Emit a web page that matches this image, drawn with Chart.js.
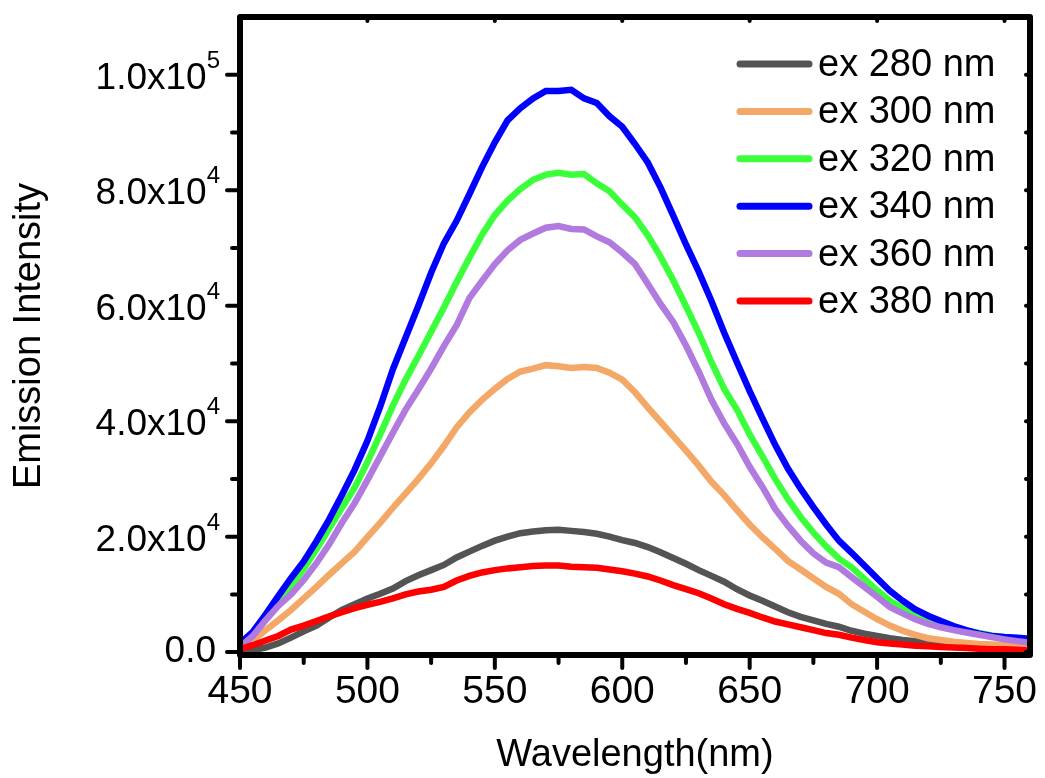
<!DOCTYPE html>
<html lang="en">
<head>
<meta charset="UTF-8">
<title>Emission Intensity vs Wavelength</title>
<script src="https://cdn.jsdelivr.net/npm/chart.js"></script>
<style>
    * { margin: 0; padding: 0; box-sizing: border-box; }
    body { background: #fff; width: 1045px; height: 778px; overflow: hidden; }
    canvas { display: block; }
</style>
</head>
<body>
<canvas id="emission-chart" width="1045" height="778"></canvas>
<script>
// wavelength (nm)
var wavelengths = [450, 455, 460, 465, 470, 475, 480, 485, 490, 495, 500, 505, 510, 515, 520, 525,
    530, 535, 540, 545, 550, 555, 560, 565, 570, 575, 580, 585, 590, 595, 600, 605, 610, 615, 620,
    625, 630, 635, 640, 645, 650, 655, 660, 665, 670, 675, 680, 685, 690, 695, 700, 705, 710, 715,
    720, 725, 730, 735, 740, 745, 750, 755, 760];

// intensities in units of 10^4
var ex280 = [0.00, 0.03, 0.08, 0.15, 0.25, 0.36, 0.46, 0.60, 0.73, 0.83, 0.93, 1.01, 1.10, 1.23, 1.33, 1.42,
    1.51, 1.64, 1.74, 1.84, 1.93, 2.00, 2.06, 2.09, 2.11, 2.12, 2.10, 2.08, 2.05, 2.00, 1.94, 1.89, 1.82,
    1.73, 1.63, 1.53, 1.42, 1.32, 1.22, 1.09, 0.98, 0.89, 0.79, 0.69, 0.61, 0.55, 0.49, 0.44, 0.37, 0.32,
    0.28, 0.24, 0.21, 0.19, 0.17, 0.15, 0.14, 0.13, 0.12, 0.11, 0.09, 0.09, 0.08];
var ex300 = [0.05, 0.20, 0.38, 0.55, 0.73, 0.93, 1.13, 1.34, 1.54, 1.74, 1.99, 2.24, 2.50, 2.75, 3.00, 3.27,
    3.57, 3.89, 4.15, 4.37, 4.56, 4.73, 4.86, 4.91, 4.97, 4.95, 4.92, 4.94, 4.92, 4.84, 4.72, 4.50, 4.24,
    3.99, 3.74, 3.49, 3.23, 2.95, 2.72, 2.46, 2.21, 1.99, 1.79, 1.58, 1.43, 1.28, 1.13, 1.01, 0.83, 0.70,
    0.57, 0.46, 0.37, 0.30, 0.24, 0.21, 0.18, 0.16, 0.14, 0.13, 0.12, 0.10, 0.09];
var ex320 = [0.10, 0.32, 0.62, 0.88, 1.14, 1.44, 1.78, 2.14, 2.50, 2.85, 3.29, 3.77, 4.27, 4.72, 5.13, 5.55,
    5.97, 6.41, 6.83, 7.23, 7.57, 7.82, 8.02, 8.18, 8.27, 8.30, 8.27, 8.28, 8.12, 7.98, 7.75, 7.53, 7.22,
    6.85, 6.44, 5.99, 5.53, 5.02, 4.56, 4.20, 3.77, 3.39, 3.00, 2.65, 2.34, 2.07, 1.83, 1.62, 1.47, 1.27,
    1.07, 0.89, 0.76, 0.64, 0.55, 0.49, 0.42, 0.37, 0.33, 0.29, 0.26, 0.23, 0.21];
var ex340 = [0.15, 0.35, 0.65, 0.97, 1.28, 1.57, 1.92, 2.30, 2.72, 3.16, 3.66, 4.25, 4.90, 5.45, 6.00, 6.57,
    7.08, 7.47, 7.93, 8.40, 8.83, 9.21, 9.42, 9.59, 9.72, 9.72, 9.74, 9.59, 9.51, 9.28, 9.10, 8.80, 8.48,
    8.05, 7.56, 7.06, 6.59, 6.08, 5.53, 5.02, 4.52, 4.05, 3.59, 3.18, 2.83, 2.51, 2.21, 1.93, 1.72, 1.50,
    1.28, 1.06, 0.89, 0.74, 0.63, 0.54, 0.45, 0.38, 0.32, 0.28, 0.26, 0.25, 0.23];
var ex360 = [0.08, 0.28, 0.55, 0.80, 1.00, 1.25, 1.54, 1.87, 2.24, 2.58, 2.98, 3.39, 3.80, 4.20, 4.55, 4.91,
    5.30, 5.66, 6.13, 6.43, 6.72, 6.96, 7.14, 7.25, 7.35, 7.38, 7.33, 7.32, 7.20, 7.10, 6.92, 6.72, 6.38,
    6.03, 5.72, 5.31, 4.86, 4.37, 3.96, 3.61, 3.21, 2.86, 2.48, 2.19, 1.93, 1.71, 1.55, 1.47, 1.30, 1.13,
    0.96, 0.78, 0.67, 0.57, 0.49, 0.43, 0.38, 0.34, 0.30, 0.26, 0.22, 0.19, 0.16];
var ex380 = [0.05, 0.12, 0.20, 0.28, 0.39, 0.46, 0.54, 0.62, 0.69, 0.76, 0.82, 0.87, 0.93, 1.00, 1.05, 1.08,
    1.13, 1.24, 1.32, 1.38, 1.42, 1.45, 1.47, 1.49, 1.50, 1.50, 1.48, 1.47, 1.46, 1.43, 1.40, 1.36, 1.31,
    1.24, 1.16, 1.09, 1.02, 0.93, 0.83, 0.75, 0.68, 0.60, 0.53, 0.48, 0.43, 0.38, 0.33, 0.30, 0.25, 0.21,
    0.17, 0.15, 0.13, 0.11, 0.10, 0.09, 0.08, 0.07, 0.06, 0.05, 0.05, 0.04, 0.03];

var seriesLabels = ['ex 280 nm', 'ex 300 nm', 'ex 320 nm', 'ex 340 nm', 'ex 360 nm', 'ex 380 nm'];
var seriesColors = ['#545454', '#f4a868', '#3cff3c', '#0000ff', '#b07ade', '#ff0000'];
var seriesValues = [ex280, ex300, ex320, ex340, ex360, ex380];

var xTickValues = [450, 500, 550, 600, 650, 700, 750];
var xMinorValues = [475, 525, 575, 625, 675, 725];
var yTickValues = [0, 2, 4, 6, 8, 10];
var yMinorValues = [1, 3, 5, 7, 9];
var yTickBase = ['0.0', '2.0x10', '4.0x10', '6.0x10', '8.0x10', '1.0x10'];
var yTickExp = ['', '4', '4', '4', '4', '5'];

var FONT = '"Liberation Sans", Arial, sans-serif';
Chart.defaults.font.family = FONT;
Chart.defaults.color = '#000';

var datasets = seriesValues.map(function (vals, i) {
    return {
        label: seriesLabels[i],
        data: vals.map(function (v, j) { return { x: wavelengths[j], y: v }; }),
        borderColor: seriesColors[i],
        backgroundColor: seriesColors[i],
        borderWidth: 6.5,
        pointRadius: 0,
        tension: 0,
        fill: false,
        order: seriesValues.length - i
    };
});

// frame, tick marks, superscript y labels and the legend
var framePlugin = {
    id: 'frame',
    afterDraw: function (chart) {
        var ctx = chart.ctx;
        var a = chart.chartArea;
        var xs = chart.scales.x;
        var ys = chart.scales.y;
        ctx.save();
        ctx.strokeStyle = '#000';
        ctx.lineCap = 'round';

        ctx.lineWidth = 4;
        xTickValues.forEach(function (v) {
            var px = xs.getPixelForValue(v);
            ctx.beginPath(); ctx.moveTo(px, a.bottom); ctx.lineTo(px, a.bottom + 13); ctx.stroke();
            ctx.beginPath(); ctx.moveTo(px, a.top); ctx.lineTo(px, a.top + 4); ctx.stroke();
        });
        xMinorValues.forEach(function (v) {
            var px = xs.getPixelForValue(v);
            ctx.beginPath(); ctx.moveTo(px, a.bottom); ctx.lineTo(px, a.bottom + 8); ctx.stroke();
        });
        yTickValues.forEach(function (v) {
            var py = ys.getPixelForValue(v);
            ctx.beginPath(); ctx.moveTo(a.left, py); ctx.lineTo(a.left - 13, py); ctx.stroke();
            ctx.beginPath(); ctx.moveTo(a.right, py); ctx.lineTo(a.right - 4, py); ctx.stroke();
        });
        yMinorValues.forEach(function (v) {
            var py = ys.getPixelForValue(v);
            ctx.beginPath(); ctx.moveTo(a.left, py); ctx.lineTo(a.left - 8, py); ctx.stroke();
            ctx.beginPath(); ctx.moveTo(a.right, py); ctx.lineTo(a.right - 4, py); ctx.stroke();
        });

        ctx.lineWidth = 6;
        ctx.lineJoin = 'round';
        ctx.strokeRect(a.left, a.top, a.right - a.left, a.bottom - a.top);

        // y tick labels with superscript exponent
        ctx.fillStyle = '#000';
        ctx.textBaseline = 'alphabetic';
        ctx.textAlign = 'right';
        yTickValues.forEach(function (v, i) {
            var py = ys.getPixelForValue(v);
            var right = a.left - 20;
            var base = py + 14;
            if (yTickExp[i]) {
                ctx.font = '24px ' + FONT;
                var w = ctx.measureText(yTickExp[i]).width;
                ctx.fillText(yTickExp[i], right, base - 21);
                right -= w;
            } else {
                right = a.left - 24;
                base = py + 10;
            }
            ctx.font = '37px ' + FONT;
            ctx.fillText(yTickBase[i], right, base);
        });

        // legend
        ctx.textAlign = 'left';
        ctx.font = '38px ' + FONT;
        chart.data.datasets.forEach(function (ds, i) {
            var ly = 64 + i * 47.4;
            ctx.strokeStyle = ds.borderColor;
            ctx.lineWidth = 7;
            ctx.lineCap = 'round';
            ctx.beginPath(); ctx.moveTo(740, ly); ctx.lineTo(809, ly); ctx.stroke();
            ctx.fillText(ds.label, 818, ly + 12);
        });
        ctx.restore();
    }
};

new Chart(document.getElementById('emission-chart').getContext('2d'), {
    type: 'line',
    data: { datasets: datasets },
    plugins: [framePlugin],
    options: {
        responsive: false,
        animation: false,
        devicePixelRatio: 1,
        layout: { padding: { top: 17, right: 15, left: 0, bottom: 0 } },
        plugins: { legend: { display: false }, tooltip: { enabled: false } },
        scales: {
            x: {
                type: 'linear',
                min: 450,
                max: 760,
                grid: { display: false, drawTicks: false },
                border: { display: false },
                afterBuildTicks: function (scale) {
                    scale.ticks = xTickValues.map(function (v) { return { value: v }; });
                },
                ticks: {
                    autoSkip: false,
                    maxRotation: 0,
                    padding: 14,
                    color: '#000',
                    font: { size: 39 },
                    callback: function (v) { return String(v); }
                },
                title: {
                    display: true,
                    text: 'Wavelength(nm)',
                    color: '#000',
                    font: { size: 38 },
                    padding: { top: 0, bottom: 0 }
                },
                afterFit: function (scale) {
                    scale.height = 123;
                    scale.paddingLeft = 0;
                    scale.paddingRight = 0;
                }
            },
            y: {
                min: -0.05,
                max: 11,
                grid: { display: false, drawTicks: false },
                border: { display: false },
                ticks: { display: false },
                title: {
                    display: true,
                    text: 'Emission Intensity',
                    color: '#000',
                    font: { size: 38 },
                    padding: { top: 7, bottom: 0 }
                },
                afterFit: function (scale) {
                    scale.width = 240;
                    scale.paddingTop = 0;
                    scale.paddingBottom = 0;
                }
            }
        }
    }
});
</script>
</body>
</html>
